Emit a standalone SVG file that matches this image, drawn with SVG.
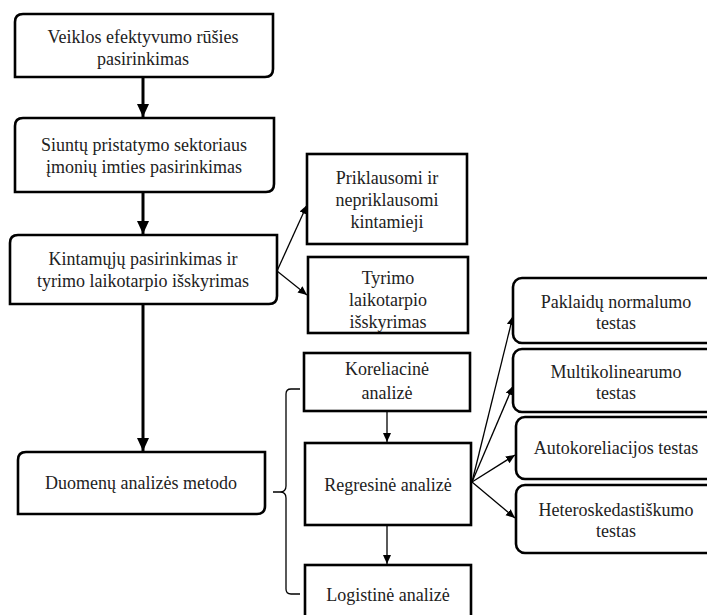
<svg xmlns="http://www.w3.org/2000/svg" width="707" height="615" viewBox="0 0 707 615">
<defs>
<style>
.box{fill:#fff;stroke:#000;stroke-width:2.6}
.t{font-family:"Liberation Serif","Times New Roman",serif;font-size:18px;fill:#222;text-anchor:middle}
.thick{stroke:#000;stroke-width:3;fill:none}
.thin{stroke:#000;stroke-width:1.3;fill:none}
</style>
<marker id="big" markerUnits="userSpaceOnUse" markerWidth="14" markerHeight="14" refX="13" refY="7" orient="auto">
<path d="M0,1 L13,7 L0,13 Z" fill="#000"/>
</marker>
<marker id="sm" markerUnits="userSpaceOnUse" markerWidth="10" markerHeight="10" refX="9" refY="5" orient="auto">
<path d="M0,1 L9,5 L0,9 Z" fill="#000"/>
</marker>
</defs>
<rect width="707" height="615" fill="#fff"/>

<g id="connectors">
<line class="thick" x1="143" y1="78" x2="143" y2="117" marker-end="url(#big)"/>
<line class="thick" x1="143" y1="193" x2="143" y2="234" marker-end="url(#big)"/>
<line class="thick" x1="143" y1="305" x2="143" y2="451" marker-end="url(#big)"/>
<line class="thin" x1="277" y1="271" x2="307" y2="205" marker-end="url(#sm)"/>
<line class="thin" x1="277" y1="271" x2="307" y2="295" marker-end="url(#sm)"/>
<line class="thin" x1="387" y1="412" x2="387" y2="442" marker-end="url(#sm)"/>
<line class="thin" x1="387" y1="526" x2="387" y2="564" marker-end="url(#sm)"/>
<line class="thin" x1="472" y1="482" x2="513" y2="316" marker-end="url(#sm)"/>
<line class="thin" x1="472" y1="482" x2="513" y2="386" marker-end="url(#sm)"/>
<line class="thin" x1="472" y1="482" x2="515" y2="455" marker-end="url(#sm)"/>
<line class="thin" x1="472" y1="482" x2="515" y2="518" marker-end="url(#sm)"/>
<path class="thin" d="M300,389 H291 Q286,389 286,394 V486 Q286,492 280,492 H273 H280 Q286,492 286,498 V589 Q286,594 291,594 H300"/>
</g>

<g id="n1">
<path class="box" d="M23,14 H273 V69 Q273,77 265,77 H15 V22 Q15,14 23,14 Z"/>
<text class="t" x="143" y="43">Veiklos efektyvumo rūšies</text>
<text class="t" x="143" y="65">pasirinkimas</text>
</g>
<g id="n2">
<path class="box" d="M23,118 H274 V184 Q274,192 266,192 H15 V126 Q15,118 23,118 Z"/>
<text class="t" x="144" y="151">Siuntų pristatymo sektoriaus</text>
<text class="t" x="144" y="173">įmonių imties pasirinkimas</text>
</g>
<g id="n3">
<path class="box" d="M18,235 H277 V296 Q277,304 269,304 H10 V243 Q10,235 18,235 Z"/>
<text class="t" x="143" y="265">Kintamųjų pasirinkimas ir</text>
<text class="t" x="143" y="287">tyrimo laikotarpio išskyrimas</text>
</g>
<g id="n4">
<path class="box" d="M26,452 H265 V506 Q265,514 257,514 H18 V460 Q18,452 26,452 Z"/>
<text class="t" x="141" y="489">Duomenų analizės metodo</text>
</g>
<g id="n5">
<rect class="box" x="307" y="154" width="160" height="90"/>
<text class="t" x="387" y="184">Priklausomi ir</text>
<text class="t" x="387" y="206">nepriklausomi</text>
<text class="t" x="387" y="228">kintamieji</text>
</g>
<g id="n6">
<rect class="box" x="308" y="257" width="160" height="76"/>
<text class="t" x="388" y="284">Tyrimo</text>
<text class="t" x="388" y="306">laikotarpio</text>
<text class="t" x="388" y="328">išskyrimas</text>
</g>
<g id="n7">
<rect class="box" x="304" y="353" width="166" height="58"/>
<text class="t" x="387" y="375">Koreliacinė</text>
<text class="t" x="387" y="399">analizė</text>
</g>
<g id="n8">
<rect class="box" x="305" y="443" width="166" height="82"/>
<text class="t" x="388" y="491">Regresinė analizė</text>
</g>
<g id="n9">
<rect class="box" x="305" y="565" width="166" height="60"/>
<text class="t" x="388" y="601">Logistinė analizė</text>
</g>
<g id="n10">
<rect class="box" x="513" y="278" width="210" height="65" rx="9"/>
<text class="t" x="616" y="308">Paklaidų normalumo</text>
<text class="t" x="616" y="329">testas</text>
</g>
<g id="n11">
<rect class="box" x="513" y="349" width="210" height="63" rx="9"/>
<text class="t" x="616" y="378">Multikolinearumo</text>
<text class="t" x="616" y="399">testas</text>
</g>
<g id="n12">
<rect class="box" x="516" y="417" width="210" height="62" rx="9"/>
<text class="t" x="616" y="454">Autokoreliacijos testas</text>
</g>
<g id="n13">
<rect class="box" x="516" y="485" width="210" height="68" rx="9"/>
<text class="t" x="616" y="516">Heteroskedastiškumo</text>
<text class="t" x="616" y="537">testas</text>
</g>
</svg>
